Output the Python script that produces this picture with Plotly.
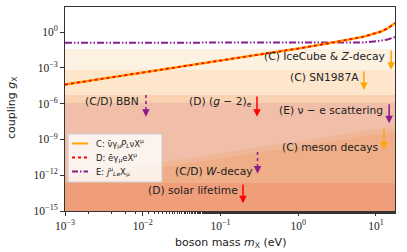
import numpy as np
import plotly.graph_objects as go

# ---- data ----
X_MIN, X_MAX = 1e-3, 17.6
Y_MIN = 1e-15

# C/D coupling curve (mass in eV, coupling)
cd_mass = [1e-3, 1e-2, 1e-1, 1.0, 2.57, 3.98, 6.9, 11.5, 14.1, 17.6]
cd_coupling = [10**-4.4, 10**-3.4, 10**-2.4, 10**-1.38, 10**-0.92, 10**-0.7,
               10**-0.39, 10**0.03, 10**0.3, 10**0.75]

# E coupling curve
e_mass = [1e-3, 1e-2, 1e-1, 1.0, 2.57, 6.9, 11.5, 14.1, 17.6]
e_coupling = [10**-0.9, 10**-0.9, 10**-0.9, 10**-0.9, 10**-0.9, 10**-0.87,
              10**-0.73, 10**-0.62, 10**-0.42]

# horizontal exclusion bounds (largest first)
band_names = ["IceCube & Z-decay", "SN1987A", "BBN", "nu-e scattering"]
band_levels = [10**-1.42, 10**-3.18, 10**-5.28, 10**-5.93]
band_colors = ["#fdf2e2", "#fde6cb", "#fad2b2", "#f1bea9"]

# sloped bounds (proportional to mass)
meson_mass = [1e-3, 17.6]
meson_coupling = [10**-12.15, 10**-7.9]
wdecay_mass = [1e-3, 17.6]
wdecay_coupling = [10**-12.6, 10**-8.35]
solar_level = 10**-12.66

x_ticks = [1e-3, 1e-2, 1e-1, 1, 10]
x_ticktext = ["10<sup>−3</sup>", "10<sup>−2</sup>", "10<sup>−1</sup>", "10<sup>0</sup>", "10<sup>1</sup>"]
y_ticks = [1, 1e-3, 1e-6, 1e-9, 1e-12, 1e-15]
y_ticktext = ["10<sup>0</sup>", "10<sup>−3</sup>", "10<sup>−6</sup>", "10<sup>−9</sup>",
              "10<sup>−12</sup>", "10<sup>−15</sup>"]

legend_labels = ["C: ν̄γ<sub>μ</sub><i>P<sub>L</sub></i>νX<sup>μ</sup>",
                 "D: ēγ<sub>μ</sub>eX<sup>μ</sup>",
                 "E: <i>j</i><sup>μ</sup><sub><i>L</i>e</sub>X<sub>μ</sub>"]

C_COL, D_COL, E_COL = "#ffa500", "#ff0000", "#8b1a8b"
E_DASH = "7px,2px,1.5px,2px,1.5px,2px"

fig = go.Figure()

def band(xs_top, ys_top, color):
    xs = [xs_top[0]] + list(xs_top) + [xs_top[-1], xs_top[0]]
    ys = [Y_MIN] + list(ys_top) + [Y_MIN, Y_MIN]
    fig.add_trace(go.Scatter(x=xs, y=ys, fill="toself", fillcolor=color, mode="none",
                             showlegend=False, hoverinfo="skip"))

for lvl, col in zip(band_levels, band_colors):
    band([X_MIN, X_MAX], [lvl, lvl], col)
band(meson_mass, meson_coupling, "#f0b797")
band(wdecay_mass, wdecay_coupling, "#efae87")
band([X_MIN, X_MAX], [solar_level, solar_level], "#f09d7a")

fig.add_trace(go.Scatter(x=e_mass, y=e_coupling, mode="lines", name=legend_labels[2], showlegend=False,
                         line=dict(color=E_COL, width=2, dash=E_DASH)))
fig.add_trace(go.Scatter(x=cd_mass, y=cd_coupling, mode="lines", name=legend_labels[0], showlegend=False,
                         line=dict(color=C_COL, width=2.6)))
fig.add_trace(go.Scatter(x=cd_mass, y=cd_coupling, mode="lines", name=legend_labels[1], showlegend=False,
                         line=dict(color=D_COL, width=1.8, dash="dot")))

L = np.log10
TXT = dict(family="DejaVu Sans", size=10.7, color="#222222")

labels = [
    ("(C) IceCube &amp; <i>Z</i>-decay", 1.144, -2.01),
    ("(C) SN1987A", 0.81, -3.77),
    ("(C/D) BBN", -2.02, -5.85),
    ("(D) (<i>g</i> − 2)<sub>e</sub>", -0.57, -5.85),
    ("(E) ν − e scattering", 1.12, -6.54),
    ("(C) meson decays", 1.067, -9.64),
    ("(C/D) <i>W</i>-decay", -0.555, -11.65),
    ("(D) solar lifetime", -0.75, -13.24),
]
for t, xl, yl in labels:
    fig.add_annotation(x=xl, y=yl, text=t, showarrow=False, xanchor="right", yanchor="middle", font=TXT)

arrows = [  # log m, tail log g, tip log g, color, dotted
    (L(15.7), L(band_levels[0]), -3.15, C_COL, False),
    (L(7.0), L(band_levels[1]), -4.85, C_COL, False),
    (L(0.011), L(band_levels[2]), -7.1, E_COL, True),
    (L(0.295), L(band_levels[2]), -7.1, D_COL, False),
    (L(14.8), L(band_levels[3]), -7.65, E_COL, False),
    (L(12.7), -8.05, -9.85, C_COL, False),
    (L(0.3), -10.06, -11.85, E_COL, True),
    (L(0.195), L(solar_level), -14.35, D_COL, False),
]
for xl, y0, y1, col, dotted in arrows:
    if dotted:
        fig.add_trace(go.Scatter(x=[10**xl, 10**xl], y=[10**y0, 10**(y1 + 0.45)], mode="lines",
                                 line=dict(color=col, width=1.5, dash="dot"), showlegend=False, hoverinfo="skip"))
        fig.add_annotation(x=xl, y=y1, ax=0, ay=-6, axref="pixel", ayref="pixel", showarrow=True,
                           arrowhead=2, arrowsize=1, arrowwidth=1.5, arrowcolor=col, text="")
    else:
        fig.add_annotation(x=xl, y=y1, ax=xl, ay=y0, axref="x", ayref="y", showarrow=True,
                           arrowhead=2, arrowsize=1, arrowwidth=1.5, arrowcolor=col, text="")

# ---- manual legend (paper coordinates) ----
W_PLOT, H_PLOT, ML, MB, MT = 330, 204, 65, 41, 7
def px(x):
    return (x - ML) / W_PLOT
def py(y):
    return (252 - MB - y) / H_PLOT

fig.add_shape(type="rect", xref="paper", yref="paper", x0=px(68), x1=px(162), y0=py(182), y1=py(134),
              fillcolor="rgba(255,255,255,0.8)", line=dict(color="#cccccc", width=1), layer="above")
legend_styles = [dict(color=C_COL, width=2, dash="solid"),
                 dict(color=D_COL, width=2, dash="dot"),
                 dict(color=E_COL, width=2, dash="6px,2px,1.5px,2px")]
for i, (lab, st) in enumerate(zip(legend_labels, legend_styles)):
    yy = 143.5 + i * 14
    fig.add_shape(type="line", xref="paper", yref="paper", x0=px(72), x1=px(88), y0=py(yy), y1=py(yy),
                  line=st, layer="above")
    fig.add_annotation(xref="paper", yref="paper", x=px(94), y=py(yy), text=lab, showarrow=False,
                       xanchor="left", yanchor="middle",
                       font=dict(family="DejaVu Sans", size=8.5, color="#222222"))

# axis titles as annotations
fig.add_annotation(xref="paper", yref="paper", x=px(230), y=py(243), text="boson mass <i>m</i><sub>X</sub> (eV)",
                   showarrow=False, xanchor="center", yanchor="middle",
                   font=dict(family="DejaVu Sans", size=11, color="#222222"))
fig.add_annotation(xref="paper", yref="paper", x=px(12), y=py(108), text="coupling <i>g</i><sub>X</sub>",
                   showarrow=False, xanchor="center", yanchor="middle", textangle=-90,
                   font=dict(family="DejaVu Sans", size=11, color="#222222"))

axis_common = dict(showline=True, linecolor="#333333", linewidth=1, mirror=True, ticks="outside",
                   ticklen=4, tickcolor="#333333", showgrid=False, zeroline=False, automargin=False,
                   tickfont=dict(family="Liberation Serif", size=11.5, color="#222222"))

fig.update_xaxes(type="log", range=[L(X_MIN), L(X_MAX)], tickvals=x_ticks, ticktext=x_ticktext,
                 minor=dict(ticks="outside", ticklen=2, tickcolor="#333333", showgrid=False),
                 **axis_common)
fig.update_yaxes(type="log", range=[-15, 2.1], tickvals=y_ticks, ticktext=y_ticktext,
                 **axis_common)

fig.update_layout(
    width=407, height=252, margin=dict(l=ML, r=407 - ML - W_PLOT, t=MT, b=MB, autoexpand=False),
    plot_bgcolor="white", paper_bgcolor="white", showlegend=False,
)

fig.write_html("out.html", config={"displayModeBar": False},
               post_script="document.body.style.margin='0';document.body.style.overflow='hidden';")
